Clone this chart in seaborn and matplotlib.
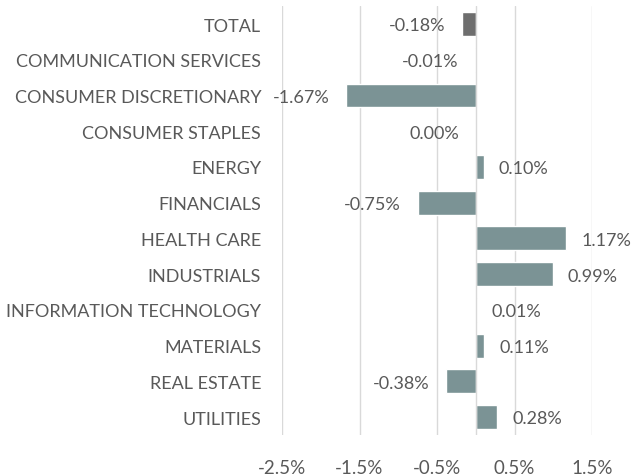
import matplotlib
matplotlib.use("Agg")
import matplotlib.pyplot as plt
import pandas as pd
import seaborn as sns

sectors = [
    "TOTAL",
    "COMMUNICATION SERVICES",
    "CONSUMER DISCRETIONARY",
    "CONSUMER STAPLES",
    "ENERGY",
    "FINANCIALS",
    "HEALTH CARE",
    "INDUSTRIALS",
    "INFORMATION TECHNOLOGY",
    "MATERIALS",
    "REAL ESTATE",
    "UTILITIES",
]
values = [-0.18, -0.01, -1.67, 0.00, 0.10, -0.75, 1.17, 0.99, 0.01, 0.11, -0.38, 0.28]
xticks = [-2.5, -1.5, -0.5, 0.5, 1.5]

TEXT = "#595959"
BAR = "#76969A"
TOTAL_BAR = "#6E6E6E"
FS = 13

sns.set_theme(style="white")
plt.rcParams["font.family"] = ["Lato", "DejaVu Sans"]

df = pd.DataFrame({"sector": sectors, "value": values})
colors = {s: (TOTAL_BAR if s == "TOTAL" else BAR) for s in sectors}

fig = plt.figure(figsize=(6.38, 4.77), dpi=100)
ax = fig.add_axes([0.442, 0.086, 0.486, 0.899])

sns.barplot(data=df, x="value", y="sector", hue="sector", palette=colors,
            order=sectors, width=0.67, legend=False, ax=ax, zorder=3)

ax.set_xlim(-2.5, 1.5)
ax.set_xticks(xticks)
ax.set_xticklabels([f"{t:.1f}%" for t in xticks])
ax.grid(axis="x", color="#D9D9D9", linewidth=1, zorder=0)
ax.axvline(0, color="#D9D9D9", linewidth=1, zorder=4)
for side in ["top", "right", "bottom", "left"]:
    ax.spines[side].set_visible(False)
ax.set_xlabel("")
ax.set_ylabel("")
ax.tick_params(axis="y", length=0, pad=15, labelsize=FS, labelcolor=TEXT)
ax.tick_params(axis="x", length=0, pad=17, labelsize=FS + 0.5, labelcolor=TEXT)

# value labels outside the bar ends (offsets in points)
for i, v in enumerate(values):
    if v > 0:
        ax.annotate(f"{v:.2f}%", (v, i), xytext=(11, -1), textcoords="offset points",
                    ha="left", va="center", fontsize=FS, color=TEXT)
    else:
        ax.annotate(f"{v:.2f}%", (v, i), xytext=(-12, -1), textcoords="offset points",
                    ha="right", va="center", fontsize=FS, color=TEXT)

fig.savefig("out.png", dpi=100)
